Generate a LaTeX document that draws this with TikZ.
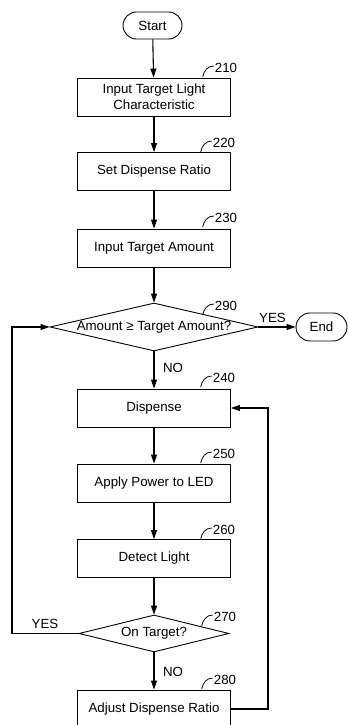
\documentclass[tikz,border=0pt]{standalone}
\usepackage{fontspec}
\setmainfont{Liberation Sans}
\usetikzlibrary{shapes.geometric,shapes.misc,arrows.meta}
\tikzset{
  every node/.style={font=\fontsize{13.3}{16}\selectfont},
  procbox/.style={draw, line width=0.9pt, minimum width=153pt, minimum height=38pt, inner sep=0pt, align=center},
  term/.style={draw, line width=0.9pt, rounded rectangle, inner xsep=0pt, inner ysep=0pt},
  dia/.style={draw, line width=0.9pt, diamond, inner sep=0pt},
  txt/.style={inner sep=0pt},
  arr/.style={line width=1.1pt, -{Triangle[length=9pt,width=6pt]}},
  plain/.style={line width=1.1pt},
  hk/.style={line width=0.8pt}
}
\newcommand{\refhook}[1]{\draw[hk] ([xshift=-1pt,yshift=2pt]#1.west) to[out=180,in=80] ++(-11,-11);}
\begin{document}
\begin{tikzpicture}[x=1pt,y=1pt]
\useasboundingbox (0,0) rectangle (348,725);
% nodes
\node[term, minimum width=59pt, minimum height=27pt] (start) at (152.5,699.5) {Start};
\node[procbox] (b210) at (154,628) {Input Target Light\\Characteristic};
\node[procbox] (b220) at (154,553.5) {Set Dispense Ratio};
\node[procbox] (b230) at (154,477) {Input Target Amount};
\node[dia, minimum width=208pt, minimum height=48pt] (d290) at (154,398) {};
\node[txt] (t290) at (d290.center) {Amount ≥ Target Amount?};
\node[term, minimum width=51pt, minimum height=28pt] (end) at (321.5,398) {End};
\node[procbox] (b240) at (154,317) {Dispense};
\node[procbox] (b250) at (154,242) {Apply Power to LED};
\node[procbox] (b260) at (154,166.5) {Detect Light};
\node[dia, minimum width=150pt, minimum height=37pt] (d270) at (154,91.5) {};
\node[txt] (t270) at (d270.center) {On Target?};
\node[procbox] (b280) at (154,16) {Adjust Dispense Ratio};
% reference numbers
\node[txt] (l210) at (226,657) {210};
\node[txt] (l220) at (224,582) {220};
\node[txt] (l230) at (226,507) {230};
\node[txt] (l290) at (226,419) {290};
\node[txt] (l240) at (224,347) {240};
\node[txt] (l250) at (224,271) {250};
\node[txt] (l260) at (224,195) {260};
\node[txt] (l270) at (225,108) {270};
\node[txt] (l280) at (225,45) {280};
\refhook{l210}\refhook{l220}\refhook{l230}\refhook{l290}\refhook{l240}
\refhook{l250}\refhook{l260}\refhook{l270}\refhook{l280}
% branch labels
\node[txt] (yes1) at (272.5,407.5) {YES};
\node[txt] (no1) at (173,357.5) {NO};
\node[txt] (yes2) at (45,101.5) {YES};
\node[txt] (no2) at (173,53.5) {NO};
% connectors
\coordinate (L) at (12,91.5);
\coordinate (R) at (268,16);
\draw[arr] (start) -- (b210);
\draw[arr] (b210) -- (b220);
\draw[arr] (b220) -- (b230);
\draw[arr] (b230) -- (d290.north);
\draw[arr] (d290.east) -- (end.west);
\draw[arr] (d290.south) -- (b240);
\draw[arr] (b240) -- (b250);
\draw[arr] (b250) -- (b260);
\draw[arr] (b260) -- (d270.north);
\draw[arr] (d270.south) -- (b280);
\draw[arr] (d270.west) -- (L) |- (d290.west);
\draw[arr] (b280.east) -- (R) |- (b240.east);
\end{tikzpicture}
\end{document}
